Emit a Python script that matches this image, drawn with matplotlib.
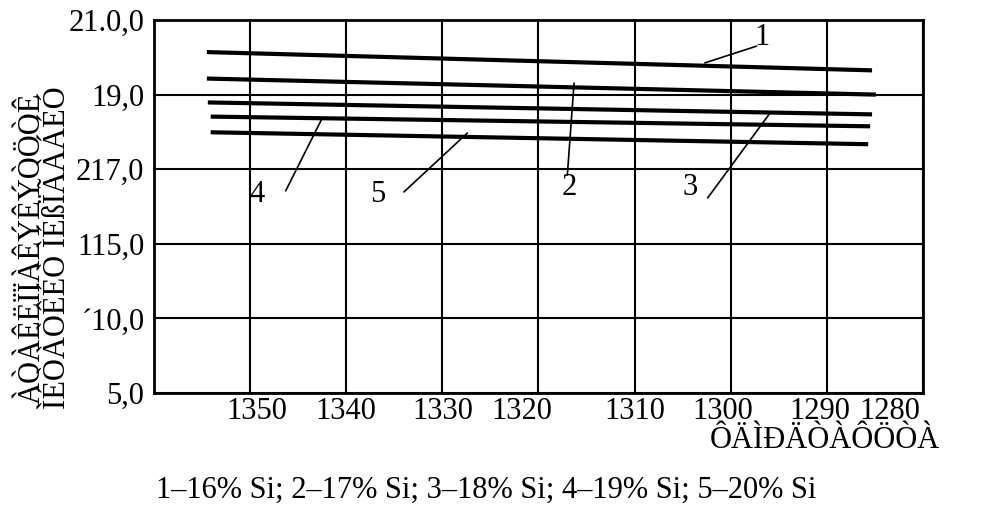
import numpy as np
import matplotlib
matplotlib.use("Agg")
import matplotlib.pyplot as plt
from matplotlib.transforms import ScaledTranslation

plt.rcParams['font.family'] = ['Liberation Serif', 'DejaVu Serif']

# Temperature axis (reversed) and the uneven value axis
x_ticks = [1350, 1340, 1330, 1320, 1310, 1300, 1290, 1280]
x_tick_labels = ['1350', '1340', '1330', '1320', '1310', '1300', '1290', '1280']
y_ticks = [5, 10, 15, 17, 19, 21]
y_tick_labels = ['5,0', '\u00b410,0', '115,0', '217,0', '19,0', '21.0,0']

# Five curves: 1-16% Si ... 5-20% Si, straight segments (start, end)
curve_ids = ['1', '2', '3', '4', '5']
x_start = [1354.5, 1354.5, 1354.4, 1354.1, 1354.1]
x_end = [1285.3, 1284.9, 1285.3, 1285.5, 1285.7]
y_start = [20.14, 19.43, 18.79, 18.41, 17.99]
y_end = [19.65, 19.00, 18.47, 18.15, 17.67]

# Leader lines: label position, leader tail, leader tip (on the curve)
label_x = [1296.7, 1316.8, 1304.2, 1349.3, 1336.7]
label_y = [20.52, 16.52, 16.50, 16.31, 16.31]
tail_x = [1297.3, 1317.0, 1302.4, 1346.3, 1334.0]
tail_y = [20.30, 16.84, 16.23, 16.42, 16.39]
tip_x = [1302.7, 1316.3, 1295.9, 1342.5, 1327.4]
tip_y = [19.85, 19.31, 18.51, 18.37, 17.97]

y_label = "\u00c0\u00d2\u00c0\u00ca\u00cb\u00cf\u00cf\u00c0\u00ca\u00dd\u00ca\u00dd\u00d2\u00d6\u00d2\u00ca\n\u00cc\u00c9\u00d2\u00c0\u00d2\u00ca\u00c9\u00d2 \u00cc\u00c9\u00df\u00cf\u00c3\u00c0\u00c1\u00c9\u00d3"
x_label = "\u00d4\u00c4\u00cc\u00d0\u00c4\u00d2\u00c0\u00d4\u00d6\u00d2\u00c0"
caption = "1\u201316% Si; 2\u201317% Si; 3\u201318% Si; 4\u201319% Si; 5\u201320% Si"

# evenly spaced gridlines for uneven values
idx = np.arange(len(y_ticks), dtype=float)
vals = np.array(y_ticks, dtype=float)


def fwd(v):
    return np.interp(v, vals, idx)


def inv(p):
    return np.interp(p, idx, vals)


fig = plt.figure(figsize=(9.82, 5.25), dpi=100)
ax = fig.add_axes([154 / 982, 1 - 393 / 525, 769 / 982, 373 / 525])
ax.set_yscale('function', functions=(fwd, inv))
ax.set_xlim(1360, 1280)
ax.set_ylim(5, 21)

FS = 22
ax.set_xticks(x_ticks)
ax.set_xticklabels(x_tick_labels, fontsize=FS)
ax.set_yticks(y_ticks)
ax.set_yticklabels(y_tick_labels, fontsize=FS)
ax.minorticks_off()
ax.tick_params(axis='both', length=0)
ax.tick_params(axis='x', pad=3)
ax.tick_params(axis='y', pad=7)

# hand-set horizontal nudges of the temperature labels (pixels)
x_label_shift = [7, 0, 0, -17, 0, -8, -7, -33]
for lab, dx in zip(ax.get_xticklabels(), x_label_shift):
    lab.set_transform(lab.get_transform() + ScaledTranslation(dx / 100, 0, fig.dpi_scale_trans))

ax.grid(True, color='black', linewidth=1.5)
ax.set_axisbelow(True)
for sp in ax.spines.values():
    sp.set_linewidth(2.0)
    sp.set_color('black')

for i in range(len(curve_ids)):
    ax.plot([x_start[i], x_end[i]], [y_start[i], y_end[i]], color='black',
            linewidth=3.0, solid_capstyle='butt', zorder=3)
    ax.annotate('', xy=(tip_x[i], tip_y[i]), xytext=(tail_x[i], tail_y[i]),
                arrowprops=dict(arrowstyle='-', color='black', lw=1.2,
                                shrinkA=0, shrinkB=0), zorder=4)
    ax.text(label_x[i], label_y[i], curve_ids[i], fontsize=FS,
            ha='center', va='center', zorder=4)

fig.text(45 / 982, 1 - 248 / 525, y_label, rotation=90, fontsize=FS,
         ha='center', va='center', linespacing=0.85)
fig.text(940 / 982, 1 - 440 / 525, x_label, fontsize=FS, ha='right', va='center')
fig.text(486 / 982, 1 - 490 / 525, caption, fontsize=FS, ha='center', va='center')

fig.savefig('out.png', dpi=100)
